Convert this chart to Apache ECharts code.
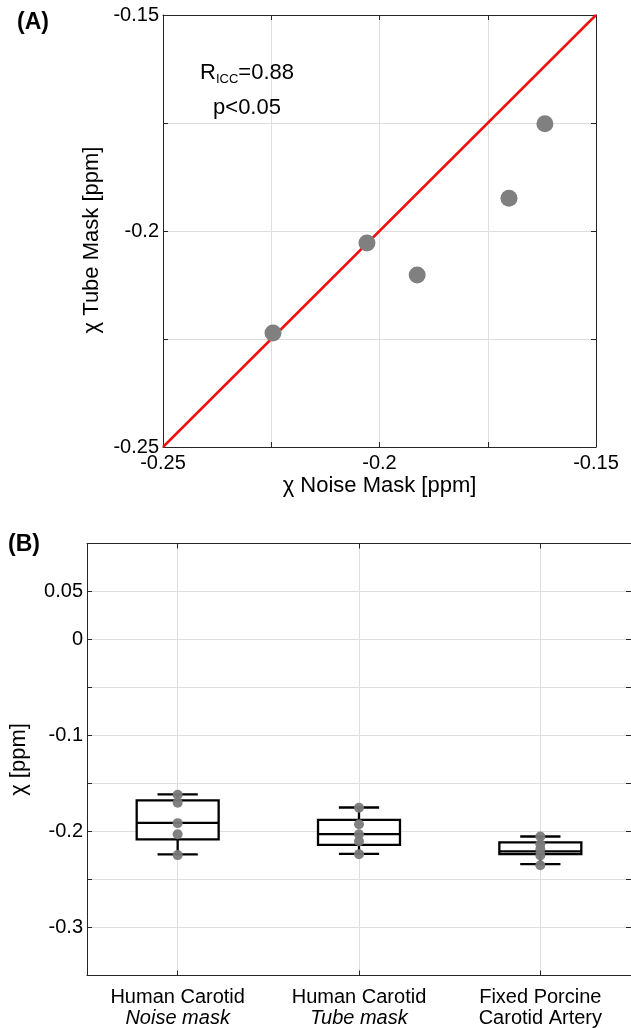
<!DOCTYPE html>
<html>
<head>
<meta charset="utf-8">
<script src="https://cdn.jsdelivr.net/npm/echarts@6/dist/echarts.min.js"></script>
<style>
html, body { margin: 0; padding: 0; background: #fff; }
#chart { width: 631px; height: 1028px; }
</style>
</head>
<body>
<div id="chart"></div>
<script>
// panel A: susceptibility from the two masks (ppm)
var noiseMask = [-0.2246, -0.2029, -0.1913, -0.1701, -0.1618];
var tubeMask = [-0.2236, -0.2028, -0.2102, -0.1924, -0.1752];
var identity = [-0.25, -0.15];
var scatterTickLabels = [-0.25, -0.2, -0.15];

// panel B: box stats, [min, q1, median, q3, max]
var groups = ['Human Carotid\nNoise mask', 'Human Carotid\nTube mask', 'Fixed Porcine\nCarotid Artery'];
var boxNoise = [-0.2238, -0.2083, -0.1910, -0.1676, -0.1614];
var boxTube = [-0.2233, -0.2139, -0.2028, -0.1878, -0.1750];
var boxPorcine = [-0.2339, -0.2236, -0.2206, -0.2114, -0.2052];
var porcinePoints = [-0.2052, -0.2132, -0.2184, -0.2250, -0.2352];
var boxTickLabels = [0.05, 0, -0.1, -0.2, -0.3];

var FONT = '"Liberation Sans", Arial, Helvetica, sans-serif';
var AXIS_COLOR = '#262626';
var GRID_COLOR = '#dedede';

function fmt(v) {
    return v === 0 ? '0' : String(+v.toFixed(3));
}
function pickLabels(list) {
    return function (v) {
        for (var i = 0; i < list.length; i++) {
            if (Math.abs(list[i] - v) < 1e-9) return fmt(v);
        }
        return '';
    };
}

var axisLine = { show: true, onZero: false, lineStyle: { color: AXIS_COLOR, width: 1 } };
var innerTick = { show: true, inside: true, length: 5, lineStyle: { color: AXIS_COLOR } };

function frameAxis(extra) {
    var a = {
        axisLine: axisLine,
        axisTick: innerTick,
        axisLabel: { show: false },
        splitLine: { show: false }
    };
    for (var k in extra) a[k] = extra[k];
    return a;
}

var tickText = { fontSize: 20, fontFamily: FONT, color: '#000' };
var nameText = { fontSize: 22, fontFamily: FONT, color: '#000' };

var scatterData = noiseMask.map(function (x, i) { return [x, tubeMask[i]]; });
var boxData = [boxNoise, boxTube, boxPorcine].map(function (b, i) { return [i].concat(b); });
var pointData = []
    .concat(noiseMask.map(function (v) { return [0, v]; }))
    .concat(tubeMask.map(function (v) { return [1, v]; }))
    .concat(porcinePoints.map(function (v) { return [2, v]; }));

function renderBox(params, api) {
    var c = api.value(0);
    var pMin = api.coord([c, api.value(1)]);
    var pQ1 = api.coord([c, api.value(2)]);
    var pMed = api.coord([c, api.value(3)]);
    var pQ3 = api.coord([c, api.value(4)]);
    var pMax = api.coord([c, api.value(5)]);
    var band = api.size([1, 0])[0];
    var hw = band * 0.226;
    var cw = band * 0.111;
    var x = pMed[0];
    var st = { stroke: '#000', lineWidth: 2.3, fill: null };
    return {
        type: 'group',
        children: [
            { type: 'line', shape: { x1: x, y1: pQ3[1], x2: x, y2: pMax[1] }, style: st },
            { type: 'line', shape: { x1: x, y1: pQ1[1], x2: x, y2: pMin[1] }, style: st },
            { type: 'line', shape: { x1: x - cw, y1: pMax[1], x2: x + cw, y2: pMax[1] }, style: st },
            { type: 'line', shape: { x1: x - cw, y1: pMin[1], x2: x + cw, y2: pMin[1] }, style: st },
            { type: 'rect', shape: { x: x - hw, y: pQ3[1], width: hw * 2, height: pQ1[1] - pQ3[1] },
              style: { stroke: '#000', lineWidth: 2.3, fill: '#fff' } },
            { type: 'line', shape: { x1: x - hw, y1: pMed[1], x2: x + hw, y2: pMed[1] }, style: st }
        ]
    };
}

var chart = echarts.init(document.getElementById('chart'));

var option = {
    animation: false,
    backgroundColor: '#fff',
    textStyle: { fontFamily: FONT },
    grid: [
        { left: 163, top: 15, width: 433, height: 432 },
        { left: 86.5, top: 543.5, width: 547.5, height: 432 }
    ],
    xAxis: [
        {
            gridIndex: 0, type: 'value', position: 'bottom',
            min: -0.25, max: -0.15, interval: 0.025,
            axisLine: axisLine,
            axisTick: innerTick,
            axisLabel: Object.assign({ formatter: pickLabels(scatterTickLabels), margin: 6, showMinLabel: true, showMaxLabel: true }, tickText),
            splitLine: { show: true, lineStyle: { color: GRID_COLOR } },
            name: 'χ Noise Mask [ppm]', nameLocation: 'middle', nameGap: 28, nameTextStyle: nameText
        },
        frameAxis({ gridIndex: 0, type: 'value', position: 'top', min: -0.25, max: -0.15, interval: 0.025 }),
        {
            gridIndex: 1, type: 'category', position: 'bottom', data: groups, boundaryGap: true,
            axisLine: axisLine,
            axisTick: { show: true, inside: true, length: 5, alignWithLabel: true, lineStyle: { color: AXIS_COLOR } },
            axisLabel: {
                margin: 11,
                interval: 0,
                formatter: function (value, idx) {
                    var lines = value.split('\n');
                    return '{a|' + lines[0] + '}\n{' + (idx < 2 ? 'i' : 'a') + '|' + lines[1] + '}';
                },
                rich: {
                    a: { fontSize: 20, lineHeight: 21, fontFamily: FONT, color: '#000' },
                    i: { fontSize: 20, lineHeight: 21, fontFamily: FONT, color: '#000', fontStyle: 'italic' }
                }
            },
            splitLine: { show: true, alignWithLabel: true, lineStyle: { color: GRID_COLOR } }
        },
        frameAxis({ gridIndex: 1, type: 'category', position: 'top', data: groups, boundaryGap: true,
            axisTick: { show: true, inside: true, length: 5, alignWithLabel: true, lineStyle: { color: AXIS_COLOR } } })
    ],
    yAxis: [
        {
            gridIndex: 0, type: 'value', position: 'left',
            min: -0.25, max: -0.15, interval: 0.025,
            axisLine: axisLine,
            axisTick: innerTick,
            axisLabel: Object.assign({ formatter: pickLabels(scatterTickLabels), margin: 4, showMinLabel: true, showMaxLabel: true }, tickText),
            splitLine: { show: true, lineStyle: { color: GRID_COLOR } },
            name: 'χ Tube Mask [ppm]', nameLocation: 'middle', nameGap: 60,
            nameTextStyle: Object.assign({ padding: [0, 18, 0, 0] }, nameText)
        },
        frameAxis({ gridIndex: 0, type: 'value', position: 'right', min: -0.25, max: -0.15, interval: 0.025 }),
        {
            gridIndex: 1, type: 'value', position: 'left',
            min: -0.35, max: 0.1, interval: 0.05,
            axisLine: axisLine,
            axisTick: innerTick,
            axisLabel: Object.assign({ formatter: pickLabels(boxTickLabels), margin: 4 }, tickText),
            splitLine: { show: true, lineStyle: { color: GRID_COLOR } },
            name: 'χ [ppm]', nameLocation: 'middle', nameGap: 57, nameTextStyle: nameText
        },
        frameAxis({ gridIndex: 1, type: 'value', position: 'right', min: -0.35, max: 0.1, interval: 0.05 })
    ],
    series: [
        {
            type: 'line', xAxisIndex: 0, yAxisIndex: 0,
            data: [[identity[0], identity[0]], [identity[1], identity[1]]],
            symbol: 'none', silent: true, z: 2,
            lineStyle: { color: '#f01010', width: 2.5 }
        },
        {
            type: 'scatter', xAxisIndex: 0, yAxisIndex: 0, data: scatterData,
            symbolSize: 17, z: 3,
            itemStyle: { color: '#808080', opacity: 1 }
        },
        {
            type: 'custom', xAxisIndex: 2, yAxisIndex: 2, data: boxData,
            renderItem: renderBox, z: 2,
            encode: { x: 0, y: [1, 2, 3, 4, 5] }
        },
        {
            type: 'scatter', xAxisIndex: 2, yAxisIndex: 2, data: pointData,
            symbolSize: 10, z: 5,
            itemStyle: { color: '#7a7a7a', opacity: 0.95 }
        }
    ],
    graphic: [
        { type: 'text', x: 17, y: 23, style: { text: '(A)', fontSize: 23, fontWeight: 'bold', fontFamily: FONT, fill: '#000', align: 'left', verticalAlign: 'middle' } },
        { type: 'text', x: 8, y: 545, style: { text: '(B)', fontSize: 23, fontWeight: 'bold', fontFamily: FONT, fill: '#000', align: 'left', verticalAlign: 'middle' } },
        {
            type: 'text', x: 247, y: 73, z: 10,
            style: {
                text: '{r|R}{s|ICC}{r|=0.88}',
                align: 'center', verticalAlign: 'middle',
                rich: {
                    r: { fontSize: 22, lineHeight: 26, fontFamily: FONT, fill: '#000' },
                    s: { fontSize: 13, lineHeight: 13, fontFamily: FONT, fill: '#000', verticalAlign: 'bottom' }
                }
            }
        },
        { type: 'text', x: 247, y: 108, z: 10, style: { text: 'p<0.05', fontSize: 22, fontFamily: FONT, fill: '#000', align: 'center', verticalAlign: 'middle' } }
    ]
};

chart.setOption(option);
</script>
</body>
</html>
